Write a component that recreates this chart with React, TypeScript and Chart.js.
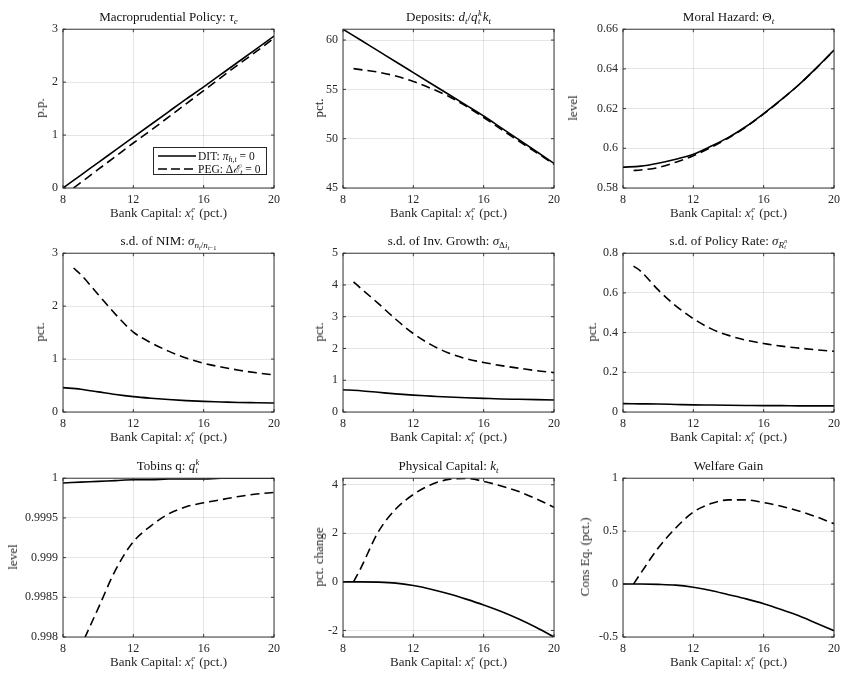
import React, { useEffect, useRef } from "react";
import { Chart, registerables } from "chart.js";
Chart.register(...registerables);

// ---------- data ----------
const xDIT = [8, 9, 10, 11, 12, 13, 14, 15, 16, 17, 18, 19, 20];
const xPEG = [8.6, 9, 10, 11, 12, 13, 14, 15, 16, 17, 18, 19, 20];
const xTicks = [8, 12, 16, 20];

const tauDIT = [0, 0.24, 0.48, 0.72, 0.96, 1.2, 1.44, 1.68, 1.91, 2.15, 2.39, 2.63, 2.87];
const tauPEG = [0, 0.1, 0.35, 0.6, 0.85, 1.09, 1.34, 1.59, 1.84, 2.09, 2.34, 2.58, 2.83];
const tauTicks = [0, 1, 2, 3];

const depDIT = [61.1, 60.0, 58.9, 57.8, 56.7, 55.6, 54.5, 53.4, 52.3, 51.1, 49.9, 48.7, 47.5];
const depPEG = [57.1, 57.0, 56.75, 56.35, 55.8, 55.1, 54.3, 53.3, 52.15, 50.95, 49.75, 48.6, 47.4];
const depTicks = [45, 50, 55, 60];

const mhDIT = [0.5905, 0.591, 0.5925, 0.5945, 0.597, 0.601, 0.6055, 0.611, 0.6175, 0.6245, 0.632, 0.6405, 0.6495];
const mhPEG = [0.5888, 0.5891, 0.5903, 0.593, 0.5963, 0.6004, 0.6052, 0.6108, 0.6173, 0.6244, 0.632, 0.6404, 0.6493];
const mhTicks = [0.58, 0.6, 0.62, 0.64, 0.66];

const nimDIT = [0.46, 0.43, 0.38, 0.33, 0.29, 0.26, 0.235, 0.215, 0.2, 0.19, 0.18, 0.175, 0.17];
const nimPEG = [2.72, 2.6, 2.22, 1.84, 1.51, 1.31, 1.15, 1.02, 0.92, 0.85, 0.79, 0.74, 0.7];
const nimTicks = [0, 1, 2, 3];

const invDIT = [0.7, 0.67, 0.62, 0.57, 0.53, 0.5, 0.47, 0.45, 0.43, 0.41, 0.4, 0.39, 0.38];
const invPEG = [4.1, 3.9, 3.42, 2.92, 2.47, 2.12, 1.86, 1.68, 1.56, 1.46, 1.38, 1.3, 1.24];
const invTicks = [0, 1, 2, 3, 4, 5];

const prDIT = [0.042, 0.041, 0.04, 0.038, 0.036, 0.035, 0.034, 0.033, 0.032, 0.032, 0.031, 0.031, 0.031];
const prPEG = [0.735, 0.71, 0.615, 0.535, 0.47, 0.42, 0.386, 0.362, 0.345, 0.332, 0.322, 0.313, 0.306];
const prTicks = [0, 0.2, 0.4, 0.6, 0.8];

const qDIT = [0.99994, 0.99995, 0.99996, 0.99997, 0.99998, 0.99998, 0.99999, 0.99999, 0.99999, 1.0, 1.0, 1.0, 1.0];
const qPEG = [0.99766, 0.99787, 0.99836, 0.99885, 0.9992, 0.9994, 0.99955, 0.99964, 0.99969, 0.99973, 0.99977, 0.9998, 0.99982];
const qTicks = [0.998, 0.9985, 0.999, 0.9995, 1];

const kDIT = [0, 0, -0.01, -0.05, -0.15, -0.3, -0.49, -0.71, -0.95, -1.22, -1.53, -1.88, -2.27];
const kPEG = [0, 0.55, 2.05, 3.0, 3.6, 4.0, 4.22, 4.26, 4.14, 3.95, 3.72, 3.42, 3.07];
const kTicks = [-2, 0, 2, 4];

const wDIT = [0, 0, -0.003, -0.01, -0.03, -0.06, -0.1, -0.14, -0.185, -0.24, -0.3, -0.37, -0.44];
const wPEG = [0, 0.1, 0.34, 0.53, 0.68, 0.76, 0.795, 0.795, 0.77, 0.735, 0.69, 0.635, 0.57];
const wTicks = [-0.5, 0, 0.5, 1];

// ---------- styling / layout ----------
const FONT = '"Liberation Serif", "Times New Roman", serif';
const TXT = "#262626";
const COL_LEFT = [63, 343, 623];
const ROW_TOP = [27, 251, 476];
const PW = 211;
const PH = 161;
const PAD_L = 63;
const PAD_R = 14;
const PAD_T = 10;
const PAD_B = 26;

const I = ({ children }: any) => <i>{children}</i>;
const Sub = ({ children }: any) => (
  <sub style={{ fontSize: "0.7em", verticalAlign: "-0.3em", lineHeight: 0 }}>{children}</sub>
);
const SubSup = ({ sub, sup }: any) => (
  <span
    style={{
      position: "relative",
      display: "inline-block",
      height: 0,
      width: "0.45em",
      fontSize: "0.65em",
      fontStyle: "italic",
      lineHeight: 1,
      marginLeft: "0.05em",
      marginRight: "0.1em",
    }}
  >
    <span style={{ position: "absolute", left: 0, top: "-1.45em" }}>{sup}</span>
    <span style={{ position: "absolute", left: 0, top: "-0.45em" }}>{sub}</span>
  </span>
);

const xLabel = (
  <span>
    Bank Capital: <I>x</I>
    <SubSup sub="t" sup="e" /> (pct.)
  </span>
);

const fmt = (v: any) => String(parseFloat(Number(v).toFixed(6)));

type PanelDef = {
  title: any;
  yLabel: string;
  yLabelOff: number;
  dit: number[];
  peg: number[];
  min: number;
  max: number;
  ticks: number[];
};

const panels: PanelDef[] = [
  {
    title: (
      <span>
        Macroprudential Policy: <I>τ</I>
        <Sub><I>e</I></Sub>
      </span>
    ),
    yLabel: "p.p.", yLabelOff: 23, dit: tauDIT, peg: tauPEG, min: 0, max: 3, ticks: tauTicks,
  },
  {
    title: (
      <span>
        Deposits: <I>d</I><Sub><I>t</I></Sub>/<I>q</I>
        <SubSup sub="t" sup="k" />
        <I>k</I><Sub><I>t</I></Sub>
      </span>
    ),
    yLabel: "pct.", yLabelOff: 24, dit: depDIT, peg: depPEG, min: 45, max: 61.1, ticks: depTicks,
  },
  {
    title: (
      <span>
        Moral Hazard: Θ<Sub><I>t</I></Sub>
      </span>
    ),
    yLabel: "level", yLabelOff: 50, dit: mhDIT, peg: mhPEG, min: 0.58, max: 0.66, ticks: mhTicks,
  },
  {
    title: (
      <span>
        s.d. of NIM: <I>σ</I>
        <Sub>
          <I>n</I><Sub><I>t</I></Sub>/<I>n</I><Sub><I>t</I>−1</Sub>
        </Sub>
      </span>
    ),
    yLabel: "pct.", yLabelOff: 23, dit: nimDIT, peg: nimPEG, min: 0, max: 3, ticks: nimTicks,
  },
  {
    title: (
      <span>
        s.d. of Inv. Growth: <I>σ</I>
        <Sub>
          Δ<I>i</I><Sub><I>t</I></Sub>
        </Sub>
      </span>
    ),
    yLabel: "pct.", yLabelOff: 24, dit: invDIT, peg: invPEG, min: 0, max: 5, ticks: invTicks,
  },
  {
    title: (
      <span>
        s.d. of Policy Rate: <I>σ</I>
        <Sub>
          <I>R</I>
          <SubSup sub="t" sup="n" />
        </Sub>
      </span>
    ),
    yLabel: "pct.", yLabelOff: 31, dit: prDIT, peg: prPEG, min: 0, max: 0.8, ticks: prTicks,
  },
  {
    title: (
      <span>
        Tobins q: <I>q</I>
        <SubSup sub="t" sup="k" />
      </span>
    ),
    yLabel: "level", yLabelOff: 50, dit: qDIT, peg: qPEG, min: 0.998, max: 1, ticks: qTicks,
  },
  {
    title: (
      <span>
        Physical Capital: <I>k</I><Sub><I>t</I></Sub>
      </span>
    ),
    yLabel: "pct. change", yLabelOff: 24, dit: kDIT, peg: kPEG, min: -2.27, max: 4.27, ticks: kTicks,
  },
  {
    title: <span>Welfare Gain</span>,
    yLabel: "Cons Eq. (pct.)", yLabelOff: 38, dit: wDIT, peg: wPEG, min: -0.5, max: 1, ticks: wTicks,
  },
];

const boxPlugin = {
  id: "matlabBox",
  afterDraw(chart: any) {
    const { ctx, chartArea } = chart;
    const { left, top, right, bottom } = chartArea;
    const xs = chart.scales.x;
    const ys = chart.scales.y;
    ctx.save();
    ctx.strokeStyle = TXT;
    ctx.lineWidth = 0.9;
    ctx.setLineDash([]);
    ctx.strokeRect(left, top, right - left, bottom - top);
    ctx.beginPath();
    xs.ticks.forEach((t: any) => {
      const px = xs.getPixelForValue(t.value);
      ctx.moveTo(px, bottom);
      ctx.lineTo(px, bottom - 3);
      ctx.moveTo(px, top);
      ctx.lineTo(px, top + 3);
    });
    ys.ticks.forEach((t: any) => {
      const py = ys.getPixelForValue(t.value);
      ctx.moveTo(left, py);
      ctx.lineTo(left + 3, py);
      ctx.moveTo(right, py);
      ctx.lineTo(right - 3, py);
    });
    ctx.stroke();
    ctx.restore();
  },
};

function Panel({ p, idx }: { p: PanelDef; idx: number }) {
  const ref = useRef<HTMLCanvasElement>(null);
  const col = idx % 3;
  const row = Math.floor(idx / 3);
  const plotLeft = COL_LEFT[col];
  const plotTop = ROW_TOP[row];
  const W = PAD_L + PW + PAD_R;
  const H = PAD_T + PH + PAD_B;

  useEffect(() => {
    const tickFont = { family: FONT, size: 12 };
    const chart = new Chart(ref.current as HTMLCanvasElement, {
      type: "line",
      data: {
        datasets: [
          {
            data: xDIT.map((x, i) => ({ x, y: p.dit[i] })),
            borderColor: "#000",
            borderWidth: 1.6,
            pointRadius: 0,
            cubicInterpolationMode: "monotone",
            fill: false,
          },
          {
            data: xPEG.map((x, i) => ({ x, y: p.peg[i] })),
            borderColor: "#000",
            borderWidth: 1.6,
            borderDash: [9, 5],
            pointRadius: 0,
            cubicInterpolationMode: "monotone",
            fill: false,
          },
        ],
      },
      options: {
        animation: false,
        responsive: false,
        maintainAspectRatio: false,
        events: [],
        layout: { padding: { left: 0, right: PAD_R, top: PAD_T, bottom: 0 } },
        plugins: { legend: { display: false }, tooltip: { enabled: false }, title: { display: false } },
        scales: {
          x: {
            type: "linear",
            min: 8,
            max: 20,
            afterBuildTicks: (s: any) => {
              s.ticks = xTicks.map((v) => ({ value: v }));
            },
            afterFit: (s: any) => {
              s.height = PAD_B;
            },
            grid: { color: "rgba(0,0,0,0.13)", drawTicks: false, lineWidth: 0.8 },
            border: { display: false },
            ticks: { padding: 5, font: tickFont, color: TXT, maxRotation: 0, callback: fmt },
          },
          y: {
            type: "linear",
            min: p.min,
            max: p.max,
            afterBuildTicks: (s: any) => {
              s.ticks = p.ticks.map((v) => ({ value: v }));
            },
            afterFit: (s: any) => {
              s.width = PAD_L;
            },
            grid: { color: "rgba(0,0,0,0.13)", drawTicks: false, lineWidth: 0.8 },
            border: { display: false },
            ticks: { padding: 5, font: tickFont, color: TXT, callback: fmt },
          },
        },
      } as any,
      plugins: [boxPlugin],
    } as any);
    return () => chart.destroy();
  }, []);

  const textBase: React.CSSProperties = {
    position: "absolute",
    fontFamily: FONT,
    fontSize: 13,
    color: "#111",
    whiteSpace: "nowrap",
    lineHeight: "16px",
  };

  return (
    <>
      <canvas
        ref={ref}
        width={W}
        height={H}
        style={{ position: "absolute", left: plotLeft - PAD_L, top: plotTop - PAD_T, width: W, height: H }}
      />
      <div style={{ ...textBase, left: plotLeft, width: PW, top: plotTop - 18, textAlign: "center" }}>{p.title}</div>
      <div style={{ ...textBase, color: TXT, left: plotLeft, width: PW, top: plotTop + PH + 17, textAlign: "center" }}>
        {xLabel}
      </div>
      <div
        style={{
          ...textBase,
          color: TXT,
          left: plotLeft - p.yLabelOff,
          top: plotTop + PH / 2,
          transform: "translate(-50%, -50%) rotate(-90deg)",
        }}
      >
        {p.yLabel}
      </div>
    </>
  );
}

function Legend() {
  const row: React.CSSProperties = { display: "flex", alignItems: "center", height: 13 };
  return (
    <div
      style={{
        position: "absolute",
        left: 153,
        top: 147,
        width: 114,
        height: 28,
        border: "1px solid #262626",
        background: "#fff",
        fontFamily: FONT,
        fontSize: 11.5,
        color: "#111",
        padding: "1px 0 0 4px",
        boxSizing: "border-box",
      }}
    >
      <div style={row}>
        <svg width={38} height={6} style={{ marginRight: 2 }}>
          <line x1={0} y1={3} x2={38} y2={3} stroke="#000" strokeWidth={1.6} />
        </svg>
        <span>
          DIT: <I>π</I>
          <Sub><I>h,t</I></Sub> = 0
        </span>
      </div>
      <div style={row}>
        <svg width={38} height={6} style={{ marginRight: 2 }}>
          <line x1={0} y1={3} x2={38} y2={3} stroke="#000" strokeWidth={1.6} strokeDasharray="9 4" />
        </svg>
        <span>
          PEG: Δ<I>ℰ</I>
          <Sub><I>t</I></Sub> = 0
        </span>
      </div>
    </div>
  );
}

export default function App() {
  return (
    <div style={{ position: "absolute", left: 0, top: 0, width: 853, height: 678, background: "#fff", overflow: "hidden" }}>
      {panels.map((p, i) => (
        <Panel key={i} p={p} idx={i} />
      ))}
      <Legend />
    </div>
  );
}
